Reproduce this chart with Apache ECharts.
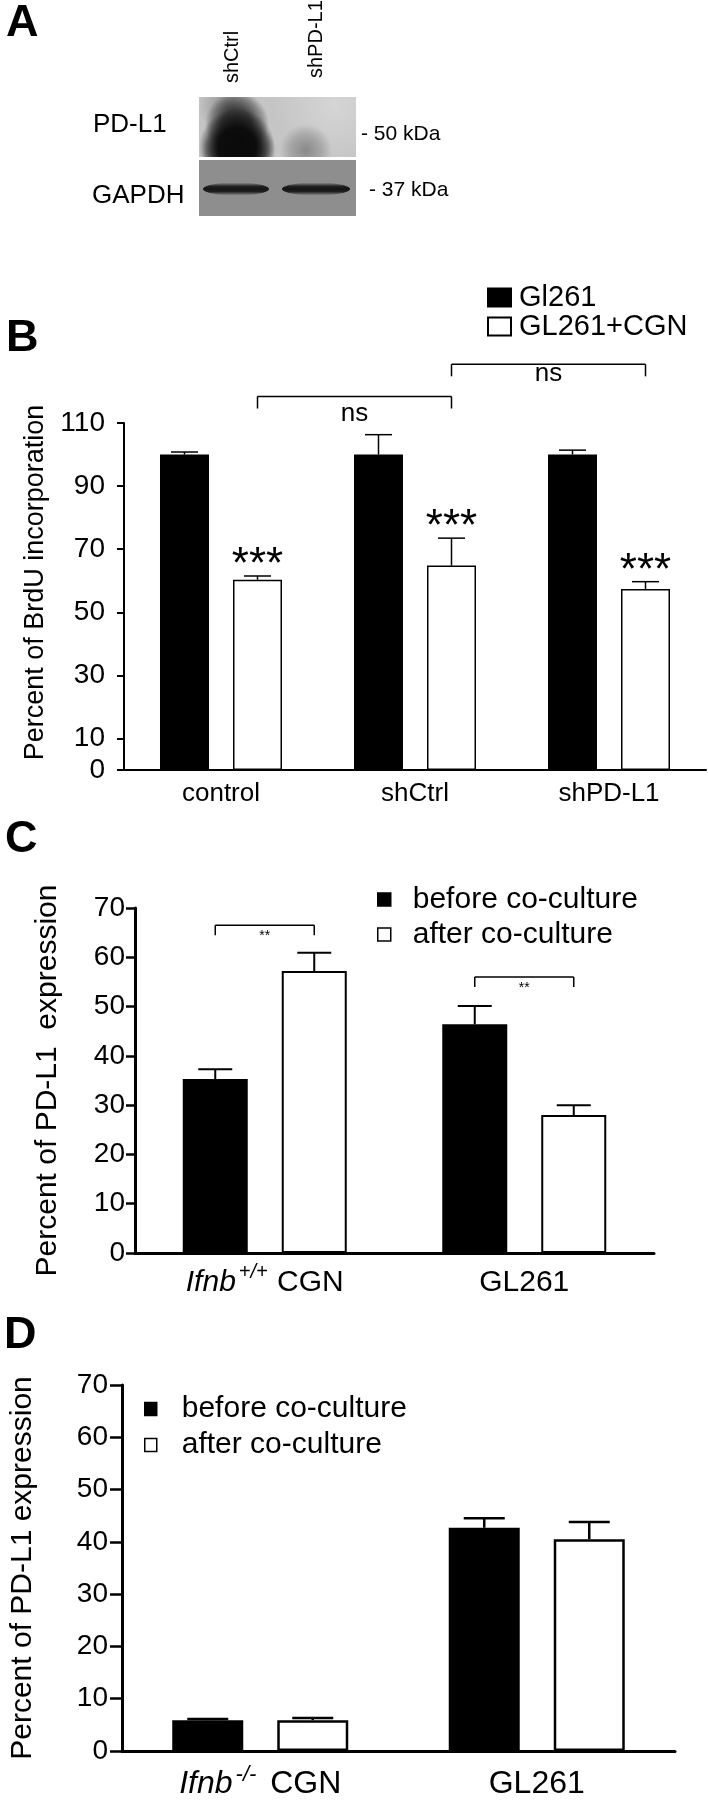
<!DOCTYPE html>
<html><head><meta charset="utf-8">
<script src="https://cdn.jsdelivr.net/npm/echarts@6/dist/echarts.min.js"></script>
<style>html,body{margin:0;padding:0;background:#fff}#c{width:708px;height:1800px}</style>
</head><body><div id="c"></div>
<script>
// ---------- Panel B data ----------
const bCategories = ['control', 'shCtrl', 'shPD-L1'];
const bSeriesNames = ['Gl261', 'GL261+CGN'];
const bGl261 = [100, 100, 100];
const bGl261Err = [0.8, 6.3, 1.4];
const bCgn = [60.3, 64.8, 57.4];
const bCgnErr = [1.2, 8.7, 2.3];
const bStars = ['***', '***', '***'];
const bTickValues = [0, 10, 30, 50, 70, 90, 110];
// [cat1, series1, cat2, series2, lineValue, labelValue, label]
const bBrackets = [[0, 1, 1, 1, 118.4, 112.2, 'ns'], [1, 1, 2, 1, 128.6, 124.9, 'ns']];

// ---------- Panel C data ----------
const cCategories = ['Ifnb+/+ CGN', 'GL261'];
const cdSeriesNames = ['before co-culture', 'after co-culture'];
const cBefore = [35.3, 46.4];
const cBeforeErr = [2.0, 3.7];
const cAfter = [57.2, 28.0];
const cAfterErr = [3.7, 2.0];
const cBrackets = [[0, 0, 0, 1, 66.5, 64.9, '**'], [1, 0, 1, 1, 56.0, 54.3, '**']];

// ---------- Panel D data ----------
const dCategories = ['Ifnb-/- CGN', 'GL261'];
const dBefore = [5.9, 42.7];
const dBeforeErr = [0.2, 1.8];
const dAfter = [5.9, 40.5];
const dAfterErr = [0.4, 3.3];

// ---------- styles ----------
const FONT = '"Liberation Sans", Arial, Helvetica, sans-serif';
const B_BW = 49, B_GAP = 24, C_BW = 65, C_GAP = 34, D_BW = 71, D_GAP = 34;

function bar(name, data, g, color, bw, gap, bwid) {
  return {
    type: 'bar', name, data, xAxisIndex: g, yAxisIndex: g, barWidth: bw,
    barGap: (gap / bw * 100).toFixed(1) + '%', silent: true,
    itemStyle: { color, borderColor: '#000', borderWidth: color === '#fff' ? bwid : 0 }
  };
}
function errs(g, means, es, off, capHalf, lw, stars, starFont) {
  return {
    type: 'custom', xAxisIndex: g, yAxisIndex: g, silent: true, z: 5, clip: false,
    data: means.map((m, i) => [i, m, m + es[i]]),
    renderItem(params, api) {
      const c0 = api.coord([api.value(0), api.value(1)]);
      const c1 = api.coord([api.value(0), api.value(2)]);
      const x = c0[0] + off;
      const ch = [
        { type: 'line', shape: { x1: x, y1: c0[1], x2: x, y2: c1[1] }, style: { stroke: '#000', lineWidth: lw } },
        { type: 'line', shape: { x1: x - capHalf, y1: c1[1], x2: x + capHalf, y2: c1[1] }, style: { stroke: '#000', lineWidth: lw } }
      ];
      if (stars) ch.push({ type: 'text', x: x, y: c1[1] - 10,
        style: { text: stars[params.dataIndex], font: starFont, fill: '#000', align: 'center', verticalAlign: 'middle' } });
      return { type: 'group', children: ch };
    }
  };
}
function brackets(g, list, off, drop, lw, font, dy) {
  return {
    type: 'custom', xAxisIndex: g, yAxisIndex: g, silent: true, z: 5, clip: false,
    data: list.map(b => [b[0], b[1], b[2], b[3], b[4], b[5]]),
    renderItem(params, api) {
      const p1 = api.coord([api.value(0), api.value(4)]);
      const p2 = api.coord([api.value(2), api.value(4)]);
      const pl = api.coord([api.value(0), api.value(5)]);
      const x1 = p1[0] + (api.value(1) === 0 ? -off : off);
      const x2 = p2[0] + (api.value(3) === 0 ? -off : off);
      const y = p1[1];
      const st = { stroke: '#000', lineWidth: lw };
      return { type: 'group', children: [
        { type: 'line', shape: { x1: x1, y1: y, x2: x2, y2: y }, style: st },
        { type: 'line', shape: { x1: x1, y1: y, x2: x1, y2: y + drop }, style: st },
        { type: 'line', shape: { x1: x2, y1: y, x2: x2, y2: y + drop }, style: st },
        { type: 'text', x: (x1 + x2) / 2, y: pl[1] + dy,
          style: { text: list[params.dataIndex][6], font: font, fill: '#000', align: 'center', verticalAlign: 'middle' } }
      ] };
    }
  };
}
function richCat(v) {
  const m = v.match(/^(Ifnb)(\S+) (.*)$/);
  return m ? '{i|' + m[1] + '}{s|' + m[2] + '}{n| ' + m[3] + '}' : '{n|' + v + '}';
}
function richStyle(fs, sfs, supPadR) {
  return {
    i: { fontStyle: 'italic', fontSize: fs, fontFamily: FONT, color: '#000', lineHeight: 36, verticalAlign: 'bottom', padding: [0, 1, 0, 0] },
    s: { fontStyle: 'italic', fontSize: sfs, fontFamily: FONT, color: '#000', lineHeight: 22, verticalAlign: 'top', padding: [0, supPadR, 0, 2] },
    n: { fontSize: fs, fontFamily: FONT, color: '#000', lineHeight: 36, verticalAlign: 'bottom' }
  };
}
const axLine = w => ({ show: true, lineStyle: { color: '#000', width: w } });

const chart = echarts.init(document.getElementById('c'), null, { width: 708, height: 1800 });

const graphic = [];
function txt(t, x, y, font, opts) {
  graphic.push(Object.assign({ type: 'text', x, y,
    style: Object.assign({ text: t, font, fill: '#000', align: 'left', verticalAlign: 'middle' }, (opts && opts.style) || {}) },
    opts && opts.rotation ? { rotation: opts.rotation } : {}));
}
// soft blot smudge: a membrane-sized rect filled with a radial gradient (auto-clipped to the membrane)
function smudge(rect, cx, cy, r, rgb, stops) {
  graphic.push({ type: 'rect', shape: rect, silent: true,
    style: { fill: { type: 'radial', x: cx, y: cy, r: r, global: true,
      colorStops: stops.map(s => ({ offset: s[0], color: 'rgba(' + rgb + ',' + s[1] + ')' })) } } });
}
// panel letters
txt('A', 6, 24, 'bold 45px ' + FONT);
txt('B', 6, 339, 'bold 45px ' + FONT);
txt('C', 5, 840, 'bold 45px ' + FONT);
txt('D', 4, 1336, 'bold 45px ' + FONT);
// western blot, upper (PD-L1)
const up = { x: 199, y: 97, width: 157, height: 60 };
graphic.push({ type: 'rect', shape: up, style: { fill: '#c5c5c5' } });
smudge(up, 335, 105, 60, '220,220,220', [[0, 0.7], [1, 0]]);
smudge(up, 228, 106, 30, '90,90,90', [[0, 0.55], [1, 0]]);
smudge(up, 237, 124, 32, '20,20,20', [[0, 0.8], [0.45, 0.7], [0.8, 0.3], [1, 0]]);
smudge(up, 237, 147, 38, '10,10,10', [[0, 1], [0.5, 0.95], [0.8, 0.45], [1, 0]]);
smudge(up, 228, 151, 26, '10,10,10', [[0, 0.9], [1, 0]]);
smudge(up, 250, 151, 26, '10,10,10', [[0, 0.9], [1, 0]]);
smudge(up, 306, 150, 26, '95,95,95', [[0, 0.6], [0.6, 0.3], [1, 0]]);
// western blot, lower (GAPDH)
graphic.push({ type: 'rect', shape: { x: 199, y: 160, width: 157, height: 56 }, style: { fill: '#8e8e8e' } });
const bandFill = { type: 'linear', x: 0, y: 0, x2: 0, y2: 1, colorStops: [
  { offset: 0, color: 'rgba(20,20,20,0)' }, { offset: 0.3, color: 'rgba(20,20,20,0.9)' },
  { offset: 0.5, color: 'rgba(20,20,20,1)' }, { offset: 0.7, color: 'rgba(20,20,20,0.9)' },
  { offset: 1, color: 'rgba(20,20,20,0)' }] };
graphic.push({ type: 'ellipse', shape: { cx: 236, cy: 189, rx: 33, ry: 6.5 }, style: { fill: bandFill } });
graphic.push({ type: 'ellipse', shape: { cx: 316, cy: 189, rx: 34, ry: 6.5 }, style: { fill: bandFill } });
txt('PD-L1', 93, 125, '26px ' + FONT);
txt('GAPDH', 92, 196, '26px ' + FONT);
txt('- 50 kDa', 361, 134, '21px ' + FONT);
txt('- 37 kDa', 369, 190, '21px ' + FONT);
txt('shCtrl', 232.5, 83, '20px ' + FONT, { rotation: Math.PI / 2 });
txt('shPD-L1', 316, 78, '20px ' + FONT, { rotation: Math.PI / 2 });

const option = {
  animation: false,
  backgroundColor: '#fff',
  textStyle: { fontFamily: FONT, color: '#000' },
  graphic: graphic,
  grid: [
    { left: 124, right: 2, top: 423, bottom: 1030 },
    { left: 135, right: 54, top: 908, bottom: 547 },
    { left: 118, right: 33, top: 1385, bottom: 47 }
  ],
  legend: [
    { data: bSeriesNames, orient: 'vertical', left: 487, top: 283, padding: 0, itemGap: 0,
      itemWidth: 23, itemHeight: 18, icon: 'rect', selectedMode: false,
      itemStyle: { borderColor: '#000', borderWidth: 2 },
      textStyle: { fontSize: 29, fontFamily: FONT, color: '#000', lineHeight: 27.5, padding: [0, 0, 0, 3] } },
    { data: cdSeriesNames, orient: 'vertical', left: 377, top: 882, padding: 0, itemGap: 0,
      itemWidth: 13, itemHeight: 13, icon: 'rect', selectedMode: false,
      itemStyle: { borderColor: '#000', borderWidth: 1.5 },
      textStyle: { fontSize: 30, fontFamily: FONT, color: '#000', lineHeight: 35, padding: [0, 0, 0, 17] } },
    { data: cdSeriesNames, orient: 'vertical', left: 144, top: 1391, padding: 0, itemGap: 0,
      itemWidth: 12, itemHeight: 13, icon: 'rect', selectedMode: false,
      itemStyle: { borderColor: '#000', borderWidth: 1.5 },
      textStyle: { fontSize: 30, fontFamily: FONT, color: '#000', lineHeight: 36, padding: [0, 0, 0, 20] } }
  ],
  xAxis: [
    { gridIndex: 0, type: 'category', data: bCategories, axisTick: { show: false }, axisLine: axLine(2),
      axisLabel: { fontSize: 26, fontFamily: FONT, color: '#000', margin: 11 } },
    { gridIndex: 1, type: 'category', data: cCategories, axisTick: { show: false }, axisLine: axLine(3),
      axisLabel: { formatter: richCat, rich: richStyle(30, 20, 1), margin: 9 } },
    { gridIndex: 2, type: 'category', data: dCategories, axisTick: { show: false }, axisLine: axLine(3),
      axisLabel: { formatter: richCat, rich: richStyle(32, 22, 5), margin: 13 } }
  ],
  yAxis: [
    { gridIndex: 0, type: 'value', min: 0, max: 110, splitLine: { show: false }, axisLine: axLine(2),
      axisTick: { show: true, length: 7, lineStyle: { width: 2, color: '#000' }, customValues: bTickValues },
      axisLabel: { customValues: bTickValues, fontSize: 28, fontFamily: FONT, color: '#000', margin: 19 },
      name: 'Percent of BrdU incorporation', nameLocation: 'middle', nameGap: 70,
      nameTextStyle: { fontSize: 27, fontFamily: FONT, color: '#000', padding: [0, 0, 0, 28] } },
    { gridIndex: 1, type: 'value', min: 0, max: 70, interval: 10, splitLine: { show: false }, axisLine: axLine(3),
      axisTick: { show: true, length: 9, lineStyle: { width: 2.5, color: '#000' } },
      axisLabel: { fontSize: 28, fontFamily: FONT, color: '#000', margin: 10 },
      name: 'Percent of PD-L1  expression', nameLocation: 'middle', nameGap: 72,
      nameTextStyle: { fontSize: 30, fontFamily: FONT, color: '#000' } },
    { gridIndex: 2, type: 'value', min: 0, max: 70, interval: 10, splitLine: { show: false }, axisLine: axLine(3),
      axisTick: { show: true, length: 12, lineStyle: { width: 2.5, color: '#000' } },
      axisLabel: { fontSize: 28, fontFamily: FONT, color: '#000', margin: 14 },
      name: 'Percent of PD-L1 expression', nameLocation: 'middle', nameGap: 84,
      nameTextStyle: { fontSize: 30, fontFamily: FONT, color: '#000' } }
  ],
  series: [
    bar(bSeriesNames[0], bGl261, 0, '#000', B_BW, B_GAP, 1.5),
    bar(bSeriesNames[1], bCgn, 0, '#fff', B_BW, B_GAP, 1.5),
    errs(0, bGl261, bGl261Err, -(B_BW + B_GAP) / 2, 13.5, 1.5),
    errs(0, bCgn, bCgnErr, (B_BW + B_GAP) / 2, 13.5, 1.5, bStars, '44px ' + FONT),
    brackets(0, bBrackets, (B_BW + B_GAP) / 2, 12, 1.5, '26px ' + FONT, -2),

    bar(cdSeriesNames[0], cBefore, 1, '#000', C_BW, C_GAP, 2),
    bar(cdSeriesNames[1], cAfter, 1, '#fff', C_BW, C_GAP, 2),
    errs(1, cBefore, cBeforeErr, -(C_BW + C_GAP) / 2, 17, 2),
    errs(1, cAfter, cAfterErr, (C_BW + C_GAP) / 2, 17, 2),
    brackets(1, cBrackets, (C_BW + C_GAP) / 2, 10, 1.5, '14px ' + FONT, 3),

    bar(cdSeriesNames[0], dBefore, 2, '#000', D_BW, D_GAP, 2.5),
    bar(cdSeriesNames[1], dAfter, 2, '#fff', D_BW, D_GAP, 2.5),
    errs(2, dBefore, dBeforeErr, -(D_BW + D_GAP) / 2, 20.5, 2.5),
    errs(2, dAfter, dAfterErr, (D_BW + D_GAP) / 2, 20.5, 2.5)
  ]
};
chart.setOption(option);
</script>
</body></html>
